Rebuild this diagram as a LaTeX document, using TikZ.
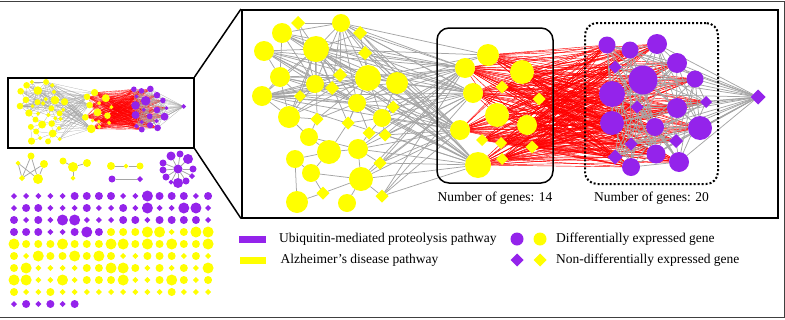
\documentclass[tikz,border=0pt]{standalone}
\usepackage{fontspec}
\setmainfont{Liberation Serif}
\usetikzlibrary{shapes.geometric,positioning}

\definecolor{genY}{RGB}{255,255,0}
\definecolor{genP}{RGB}{148,35,235}
\definecolor{edgegray}{RGB}{165,165,165}

\pgfdeclarelayer{edges}
\pgfsetlayers{edges,main}

\def\netlw{0.75pt}

\tikzset{
  gene/.style={inner sep=0pt, outer sep=0pt, draw=none},
  yc/.style={gene, circle, fill=genY, minimum size=#1}, yc/.default=8,
  yd/.style={gene, diamond, fill=genY, minimum size=#1}, yd/.default=6,
  pc/.style={gene, circle, fill=genP, minimum size=#1}, pc/.default=8,
  pd/.style={gene, diamond, fill=genP, minimum size=#1}, pd/.default=6,
  yC/.style={yc=11}, pC/.style={pc=11},
  grayedge/.style={draw=edgegray, line width=\netlw},
  rededge/.style={draw=red, line width=0.6*\netlw},
  lbl/.style={font=\fontsize{13.5}{16}\selectfont},
  frame/.style={draw, line width=1.5pt, inner sep=0pt}
}

% the network, drawn once small and once zoomed in
\newcommand\genenet{%
  % Alzheimer's disease pathway
  \node[yc=20] (a1) at (282,33) {};
  \node[yd=14] (a2) at (298,23) {};
  \node[yc=18] (a3) at (341,23) {};
  \node[yd=14] (a4) at (360,33) {};
  \node[yc=26] (a5) at (316,49) {};
  \node[yc=20] (a6) at (264,51) {};
  \node[yd=14] (a7) at (365,53) {};
  \node[yc=20] (a8) at (280,77) {};
  \node[yd=14] (a9) at (340,75) {};
  \node[yc=26] (a10) at (368,78) {};
  \node[yc=22] (a11) at (397,83) {};
  \node[yc=18] (a12) at (315,84) {};
  \node[yd=14] (a13) at (332,88) {};
  \node[yc=20] (a14) at (262,96) {};
  \node[yd=12] (a15) at (300,96) {};
  \node[yc=18] (a16) at (357,103) {};
  \node[yd=13] (a17) at (393,107) {};
  \node[yc=22] (a18) at (289,117) {};
  \node[yd=13] (a19) at (317,119) {};
  \node[yd=13] (a20) at (348,123) {};
  \node[yc=18] (a21) at (382,118) {};
  \node[yc=18] (a22) at (309,137) {};
  \node[yd=13] (a23) at (369,133) {};
  \node[yd=13] (a24) at (385,135) {};
  \node[yc=24] (a25) at (329,152) {};
  \node[yc=20] (a26) at (358,149) {};
  \node[yc=18] (a27) at (295,159) {};
  \node[yd=13] (a28) at (380,163) {};
  \node[yc=18] (a29) at (311,173) {};
  \node[yc=24] (a30) at (361,179) {};
  \node[yd=13] (a31) at (323,193) {};
  \node[yc=22] (a32) at (297,202) {};
  \node[yc=18] (a33) at (347,203) {};
  \node[yd=13] (a34) at (382,196) {};
  % the 14 genes linked to the other pathway
  \node[yc=20] (m1) at (465,68) {};
  \node[yc=22] (m2) at (488,55) {};
  \node[yc=20] (m3) at (473,93) {};
  \node[yd=13] (m4) at (502,87) {};
  \node[yc=24] (m5) at (497,115) {};
  \node[yc=20] (m6) at (460,130) {};
  \node[yd=12] (m7) at (482,140) {};
  \node[yd=12] (m8) at (501,143) {};
  \node[yc=26] (m9) at (478,165) {};
  \node[yd=12] (m10) at (502,159) {};
  \node[yc=24] (m11) at (522,72) {};
  \node[yd=13] (m12) at (539,99) {};
  \node[yc=20] (m13) at (527,125) {};
  \node[yd=13] (m14) at (532,147) {};
  % ubiquitin-mediated proteolysis pathway
  \node[pc=17] (p1) at (607,45) {};
  \node[pc=17] (p2) at (630,50) {};
  \node[pc=20] (p3) at (657,44) {};
  \node[pd=13] (p4) at (615,67) {};
  \node[pc=20] (p5) at (677,63) {};
  \node[pc=29] (p6) at (643,80) {};
  \node[pc=17] (p7) at (695,79) {};
  \node[pc=26] (p8) at (612,94) {};
  \node[pd=13] (p9) at (637,107) {};
  \node[pc=20] (p10) at (677,108) {};
  \node[pd=12] (p11) at (706,102) {};
  \node[pc=24] (p12) at (612,123) {};
  \node[pc=18] (p13) at (655,127) {};
  \node[pc=24] (p14) at (700,128) {};
  \node[pd=13] (p15) at (631,144) {};
  \node[pd=14] (p16) at (676,141) {};
  \node[pc=19] (p17) at (656,154) {};
  \node[pd=15] (p18) at (615,157) {};
  \node[pc=18] (p19) at (631,167) {};
  \node[pc=20] (p20) at (679,162) {};
  \node[pd=15] (q) at (758,97) {};
  \begin{pgfonlayer}{edges}
    \foreach \t in {a1,a2,a3,a4,a6,a7,a8,a9,a10,a11,a12,a13,a14,a15,a16,a18,a19,a20} \draw[grayedge] (a5) -- (\t);
    \foreach \t in {a1,a2,a4,a7,a9,a10,a12,a13,a16} \draw[grayedge] (a3) -- (\t);
    \foreach \t in {a1,a4,a6,a7,a8,a9,a11,a12,a13,a14,a15,a16,a18,a19,a20,a21} \draw[grayedge] (a10) -- (\t);
    \foreach \t in {a1,a2,a6,a8,a9,a13,a14,a15,a16,a18} \draw[grayedge] (a12) -- (\t);
    \foreach \t in {a6,a8,a11,a13,a14,a15,a19,a20,a21,a23} \draw[grayedge] (a16) -- (\t);
    \foreach \t in {a8,a9,a11,a13,a15,a17} \draw[grayedge] (a14) -- (\t);
    \foreach \t in {a1,a6,a9,a13,a15,a18} \draw[grayedge] (a8) -- (\t);
    \foreach \t in {a13,a14,a15,a19,a22} \draw[grayedge] (a18) -- (\t);
    \foreach \t in {a11,a13,a17,a20,a23,a24} \draw[grayedge] (a21) -- (\t);
    \foreach \t in {a19,a25,a26} \draw[grayedge] (a22) -- (\t);
    \foreach \t in {a20,a26,a27,a29} \draw[grayedge] (a25) -- (\t);
    \foreach \t in {a23,a28,a30} \draw[grayedge] (a26) -- (\t);
    \foreach \t in {a29,a32} \draw[grayedge] (a27) -- (\t);
    \foreach \t in {a30,a31} \draw[grayedge] (a29) -- (\t);
    \foreach \t in {a31,a33,a34} \draw[grayedge] (a30) -- (\t);
    \draw[grayedge] (a31) -- (a32);
    % between the two yellow groups
    \foreach \s in {a1,a3,a4,a5,a6,a7,a10,a11,a14,a16,a17,a21,a24,a26,a28,a30,a34}
      \foreach \t in {m1,m3,m6,m9} \draw[grayedge] (\s) -- (\t);
    \foreach \s in {a5,a10,a11,a3} \draw[grayedge] (\s) -- (m2);
    % crosstalk
    \foreach \i in {1,...,14}
      \foreach \j in {1,...,20} \draw[rededge] (m\i) -- (p\j);
    \foreach \s in {m1,m3,m6}
      \foreach \t in {m4,m5,m11,m12,m13} \draw[rededge] (\s) -- (\t);
    \foreach \i in {1,...,20}
      \foreach \d in {1,4,7,9} {
        \pgfmathtruncatemacro\k{mod(\i+\d-1,20)+1}
        \draw[grayedge] (p\i) -- (p\k);
      }
    \foreach \i in {1,...,20} \draw[grayedge] (p\i) -- (q);
  \end{pgfonlayer}
}

\begin{document}
\begin{tikzpicture}[x=1pt, y=-1pt]
  \useasboundingbox (0,0) rectangle (785,319);
  \draw[line width=0.8pt, black!75] (0,1) -- (784,1) -- (784,317) -- (0,317);

  % overview and zoomed view
  \begin{scope}[name prefix=s-, shift={(-66.46,74.41)}, scale=0.33, transform shape]
    \def\netlw{0.22pt}
    \genenet
  \end{scope}
  \begin{scope}[name prefix=b-]
    \genenet
  \end{scope}

  \node[frame, minimum width=186, minimum height=70, anchor=north west] (small) at (7,77) {};
  \node[frame, minimum width=536, minimum height=208, anchor=north west] (big) at (241,9) {};
  \draw[line width=1.5pt] (small.north east) -- (big.north west);
  \draw[line width=1.5pt] (small.south east) -- (big.south west);

  \node[frame, rounded corners=12pt, minimum width=116, minimum height=155] (box14) at (495,105.5) {};
  \node[gene, draw, line width=2pt, dash pattern=on 2pt off 2pt, rounded corners=12pt,
        minimum width=133, minimum height=161] (box20) at (651.5,103.5) {};
  \node[lbl, below=5pt of box14] (n14) {Number of genes: 14};
  \node[lbl, below=4pt of box20] (n20) {Number of genes: 20};

  % unconnected parts
  \node[yc=7] (ca1) at (31,156) {};
  \node[yd=5] (ca2) at (18,163) {};
  \node[yc=8] (ca3) at (44,164) {};
  \node[yd=6] (ca4) at (22,178) {};
  \node[yc=10] (ca5) at (38,179) {};
  \node[yc=7] (cb1) at (63,161) {};
  \node[yc=10] (cb2) at (73,167) {};
  \node[yc=8] (cb3) at (87,163) {};
  \node[yd=5] (cb4) at (73,178) {};
  \node[yc=8] (cc1) at (111,166) {};
  \node[yd=5] (cc2) at (126,166) {};
  \node[yc=7] (cc3) at (140,166) {};
  \node[pc=7] (cc4) at (112,179) {};
  \node[pd=6] (cc5) at (140,179) {};
  \node[pc=9] (cd0) at (178,169) {};
  \foreach \x/\y/\s/\d [count=\i] in {171/156/pc/9, 180/154/pc/7, 188/159/pc/10, 163/163/pc/7,
      193/169/pc/7, 163/170/pc/7, 192/176/pd/6, 166/177/pc/7, 171/182/pd/5, 178/183/pc/10, 186/181/pc/7}
    \node[\s=\d] (cd\i) at (\x,\y) {};
  \begin{pgfonlayer}{edges}
    \foreach \s in {ca1,ca2,ca3}
      \foreach \t in {ca4,ca5} \draw[grayedge] (\s) -- (\t);
    \foreach \t in {cb1,cb3,cb4} \draw[grayedge] (cb2) -- (\t);
    \draw[grayedge] (cc1) -- (cc2) -- (cc3);
    \draw[grayedge] (cc4) -- (cc5);
    \foreach \i in {1,...,11} \draw[grayedge] (cd0) -- (cd\i);
  \end{pgfonlayer}

  % isolated genes
  \foreach \row [count=\r] in {
      {pd,pd,pd,pd,pd,pc,pc,pc,pc,pd,pd,pC,pc,pc,pc,pd,pc},
      {pd,pc,pc,pd,pd,pd,pc,pd,pd,pc,pd,pC,pd,pd,pC,pC,pd},
      {pc,pd,pc,pd,pC,pC,pd,pd,pd,pc,pc,pd,pc,pc,pc,pc,pd},
      {pc,pc,pc,pd,pd,pc,pC,pc,yc,yc,yc,yC,yC,yd,yc,yC,yC},
      {yC,yc,yc,yc,yC,yc,yc,yc,yC,yC,yc,yC,yc,yC,yc,yc,yC},
      {yc,yd,yC,yc,yc,yC,yc,yC,yc,yd,yd,yc,yc,yc,yd,yc,yd},
      {yc,yC,yd,yd,yd,yd,yc,yc,yC,yC,yc,yd,yc,yd,yc,yd,yC},
      {yC,yC,yd,yd,yC,yd,yc,yc,yc,yC,yd,yd,yc,yC,yc,yd,yc},
      {yc,yd,yd,yc,yd,yd,yd,yd,yd,yd,yd,yd,yd,yc,yd,yd,yd},
      {pd,pc,pd,pc,pd,pc}}
    \foreach \s [count=\i] in \row
      \node[\s] (g\r-\i) at ({14+(\i-1)*12.13}, {196+(\r-1)*12}) {};

  % legend
  \node[gene, rectangle, fill=genP, minimum width=27, minimum height=7] (ubar) at (252.5,239) {};
  \node[gene, rectangle, fill=genY, minimum width=26, minimum height=7] (abar) at (253,260) {};
  \node[lbl, right=9.5pt of ubar] (utxt) {Ubiquitin-mediated proteolysis pathway};
  \node[lbl, right=11pt of abar] (atxt) {Alzheimer’s disease pathway};
  \node[pc=13] (lpc) at (517,239) {};
  \node[yc=13] (lyc) at (540,239) {};
  \node[pd=13] (lpd) at (517,260) {};
  \node[yd=13] (lyd) at (540,260) {};
  \node[lbl, right=6pt of lyc] (dtxt) {Differentially expressed gene};
  \node[lbl, right=6pt of lyd] (ntxt) {Non-differentially expressed gene};
\end{tikzpicture}
\end{document}
